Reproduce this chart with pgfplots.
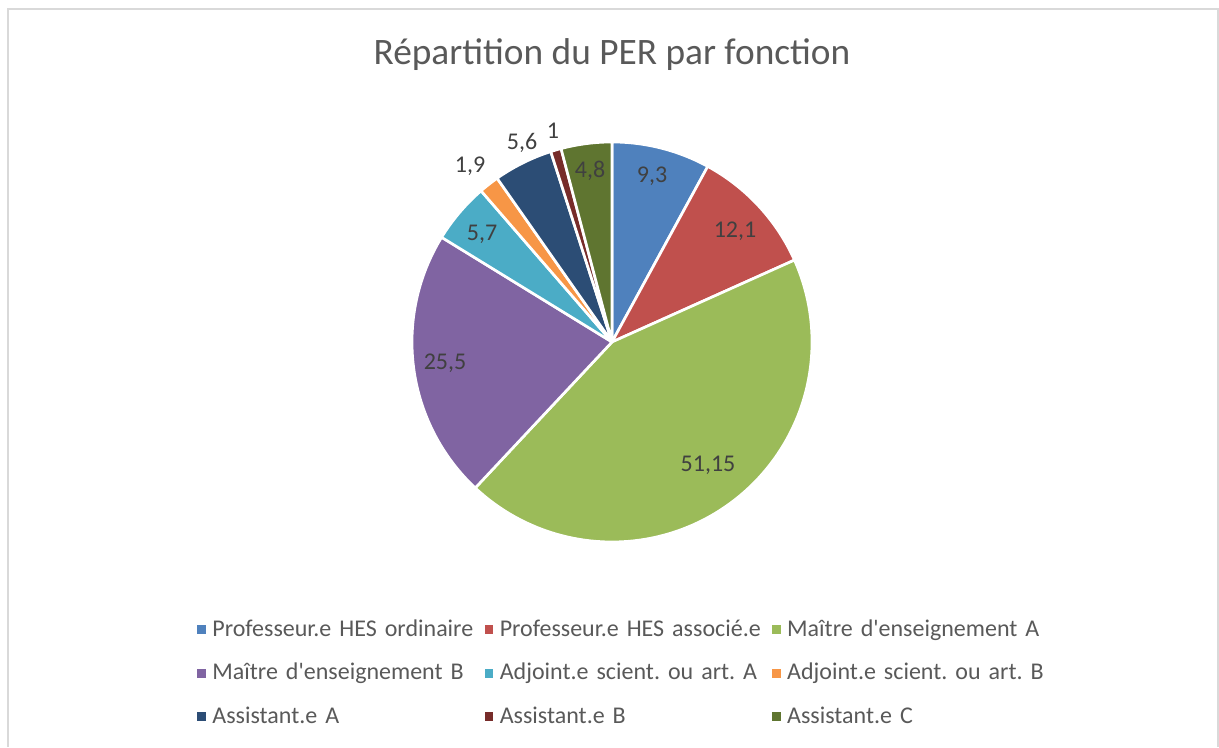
\documentclass[border=0pt]{standalone}
\usepackage{pgfplots}
\pgfplotsset{compat=1.18}
\usepackage{fontspec}
\setmainfont{Carlito}[Ligatures=TeXOff]
\frenchspacing
\definecolor{c1}{HTML}{4F81BD}
\definecolor{c2}{HTML}{C0504D}
\definecolor{c3}{HTML}{9BBB59}
\definecolor{c4}{HTML}{8064A2}
\definecolor{c5}{HTML}{4BACC6}
\definecolor{c6}{HTML}{F79646}
\definecolor{c7}{HTML}{2C4D75}
\definecolor{c8}{HTML}{772C2A}
\definecolor{c9}{HTML}{5F7530}
\definecolor{titlecol}{HTML}{595959}
\definecolor{labcol}{HTML}{404040}
\definecolor{bordercol}{HTML}{D9D9D9}
% degrees per unit: total of the values below is 117.05
\pgfmathsetmacro\degper{360/117.05}
% #1 cumulative value before slice, #2 value, #3 colour, #4 legend text
\newcommand{\slice}[4]{%
  \pgfmathsetmacro\angA{90-(#1+#2)*\degper}%
  \pgfmathsetmacro\angB{90-(#1)*\degper}%
  \addplot[fill=#3, draw=white, line width=2pt, line join=round, domain=\angA:\angB, samples=90, variable=\t]
    ({612+200*cos(t)},{405+200*sin(t)}) -- (axis cs:612,405) -- cycle;
  \addlegendentry{#4}%
}
\begin{document}
\begin{tikzpicture}
\begin{axis}[
  width=914.25pt, height=560.25pt, scale only axis,
  xmin=0, xmax=1219, ymin=0, ymax=747,
  hide axis, clip=false,
  legend columns=3,
  legend image code/.code={\path (0pt,0pt); \fill[#1,draw=none] (0pt,1.8pt) rectangle (6.5pt,8.3pt);},
  legend style={draw=none, fill=none, inner sep=0pt, outer sep=0pt,
    at={(axis cs:196,73)}, anchor=west,
    font=\fontsize{18}{21}\selectfont, text=titlecol,
    nodes={inner sep=0pt, anchor=base west},
    /tikz/every odd column/.append style={column sep=4.8pt},
    /tikz/every even column/.append style={nodes={text width=203.25pt, align=left, text height=13pt, text depth=4pt}},
    row sep=15.6pt},
]
\slice{0}{9.3}{c1}{Professeur.e HES ordinaire}
\slice{9.3}{12.1}{c2}{Professeur.e HES associé.e}
\slice{21.4}{51.15}{c3}{Maître d'enseignement A}
\slice{72.55}{25.5}{c4}{Maître d'enseignement B}
\slice{98.05}{5.7}{c5}{Adjoint.e scient. ou art. A}
\slice{103.75}{1.9}{c6}{Adjoint.e scient. ou art. B}
\slice{105.65}{5.6}{c7}{Assistant.e A}
\slice{111.25}{1}{c8}{Assistant.e B}
\slice{112.25}{4.8}{c9}{Assistant.e C}
% chart area border
\draw[bordercol, line width=1.5pt] (axis cs:7.5,0) -- (axis cs:7.5,737.5) -- (axis cs:1217.5,737.5) -- (axis cs:1217.5,0);
% title
\node[font=\fontsize{28}{34}\selectfont, text=titlecol] at (axis cs:612,692) {Répartition du PER par fonction};
% data labels
\begin{scope}[every node/.style={font=\fontsize{18}{21}\selectfont, text=labcol}]
\node at (axis cs:652,571) {9,3};
\node at (axis cs:735,516) {12,1};
\node at (axis cs:708,282) {51,15};
\node at (axis cs:445,384) {25,5};
\node at (axis cs:482,513) {5,7};
\node at (axis cs:470,581) {1,9};
\node at (axis cs:522,604) {5,6};
\node at (axis cs:553,616) {1};
\node at (axis cs:590,576) {4,8};
\end{scope}
\path (axis cs:0,0) (axis cs:1219,747);
\end{axis}
\end{tikzpicture}
\end{document}
